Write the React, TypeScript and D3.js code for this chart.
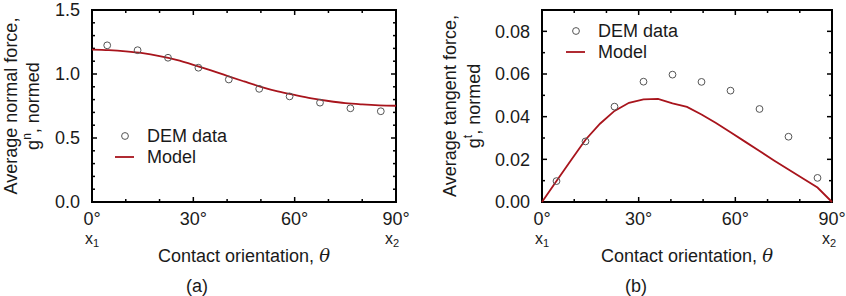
import React from "react";
import * as d3 from "d3";

// contact orientation of the DEM bins, degrees
const thetaDEM = [4.5, 13.5, 22.5, 31.5, 40.5, 49.5, 58.5, 67.5, 76.5, 85.5];

// (a) average normal force
const normalDEM = [1.224, 1.186, 1.127, 1.049, 0.957, 0.884, 0.825, 0.776, 0.732, 0.709];
const normalModelTheta = [0, 5, 10, 15, 20, 25, 30, 35, 40, 45, 50, 55, 60, 65, 70, 75, 80, 85, 90];
const normalModel = [1.19, 1.186, 1.177, 1.163, 1.14, 1.11, 1.072, 1.03, 0.985, 0.942, 0.9, 0.864, 0.836, 0.81, 0.789, 0.772, 0.762, 0.755, 0.752];
const normalTicks = [0, 0.5, 1.0, 1.5];

// (b) average tangent force
const tangentDEM = [0.0098, 0.0284, 0.0447, 0.0564, 0.0597, 0.0563, 0.0522, 0.0436, 0.0306, 0.0113];
const tangentModelTheta = [0, 4.5, 9, 13.5, 18, 22.5, 27, 31.5, 36, 40.5, 45, 49.5, 54, 58.5, 63, 67.5, 72, 76.5, 81, 85.5, 90];
const tangentModel = [0, 0.0098, 0.0196, 0.0292, 0.0367, 0.0427, 0.0465, 0.0481, 0.0483, 0.0462, 0.0446, 0.041, 0.037, 0.0327, 0.0283, 0.0239, 0.0195, 0.0152, 0.011, 0.0068, 0];
const tangentTicks = [0, 0.02, 0.04, 0.06, 0.08];

const xTicks = [0, 30, 60, 90];
// end points of the orientation range get an x1 / x2 label underneath
const xEndLabels: Record<number, string> = { 0: "1", 90: "2" };

const FONT = "'Liberation Sans', Arial, sans-serif";
const FS = 18;
const RED = "#a8141c";

type PanelProps = {
  left: number;
  right: number;
  yMax: number;
  yTicks: number[];
  yMinorStep: number;
  yFormat: (v: number) => string;
  dem: number[];
  modelTheta: number[];
  model: number[];
  curve: d3.CurveFactory;
  symbol: string;
  yTitleOffsets: [number, number];
  subShift: number;
  legend: { x: number; y: number };
  caption: string;
  captionX: number;
};

const TOP = 10;
const BOTTOM = 202;

const Panel = (p: PanelProps) => {
  const ref = React.useRef<SVGGElement>(null);

  React.useEffect(() => {
    const g = d3.select(ref.current);
    g.selectAll("*").remove();

    const x = d3.scaleLinear().domain([0, 90]).range([p.left, p.right]);
    const y = d3.scaleLinear().domain([0, p.yMax]).range([BOTTOM, TOP]);

    // inner ticks on all four sides
    const ticks = g.append("g").attr("stroke", "#000").attr("stroke-width", 1.5);
    d3.range(0, 91, 10).forEach((t) => {
      const len = t % 30 === 0 ? 5 : 3;
      ticks.append("line").attr("x1", x(t)).attr("x2", x(t)).attr("y1", BOTTOM).attr("y2", BOTTOM - len);
      ticks.append("line").attr("x1", x(t)).attr("x2", x(t)).attr("y1", TOP).attr("y2", TOP + len);
    });
    const nMinor = Math.round(p.yMax / p.yMinorStep);
    d3.range(0, nMinor + 1).forEach((i) => {
      const v = i * p.yMinorStep;
      const major = p.yTicks.some((t) => Math.abs(t - v) < 1e-9);
      const len = major ? 5 : 3;
      ticks.append("line").attr("x1", p.left).attr("x2", p.left + len).attr("y1", y(v)).attr("y2", y(v));
      ticks.append("line").attr("x1", p.right).attr("x2", p.right - len).attr("y1", y(v)).attr("y2", y(v));
    });

    // frame
    g.append("rect")
      .attr("x", p.left)
      .attr("y", TOP)
      .attr("width", p.right - p.left)
      .attr("height", BOTTOM - TOP)
      .attr("fill", "none")
      .attr("stroke", "#000")
      .attr("stroke-width", 2);

    const txt = g.append("g").attr("font-family", FONT).attr("font-size", FS).attr("fill", "#1a1a1a");

    // y tick labels
    p.yTicks.forEach((t) => {
      txt.append("text")
        .attr("x", p.left - 12)
        .attr("y", y(t))
        .attr("dy", "0.36em")
        .attr("text-anchor", "end")
        .text(p.yFormat(t));
    });

    // x tick labels
    xTicks.forEach((t) => {
      txt.append("text")
        .attr("x", x(t))
        .attr("y", 225)
        .attr("text-anchor", "middle")
        .text(`${t}°`);
      const n = xEndLabels[t];
      if (n) {
        const sx = t === 90 ? x(t) - p.subShift : x(t);
        const s = txt.append("text").attr("x", sx).attr("y", 244).attr("font-size", 16).attr("text-anchor", "middle");
        s.append("tspan").text("x");
        s.append("tspan").attr("font-size", 11).attr("dy", 3).text(n);
      }
    });

    // axis titles
    const xt = txt.append("text")
      .attr("x", (p.left + p.right) / 2)
      .attr("y", 262)
      .attr("text-anchor", "middle");
    xt.append("tspan").text("Contact orientation, ");
    xt.append("tspan").attr("font-style", "italic").attr("font-family", "'DejaVu Serif', serif").text("θ");

    const cy = (TOP + BOTTOM) / 2;
    txt.append("text")
      .attr("transform", `translate(${p.left - p.yTitleOffsets[0]},${cy}) rotate(-90)`)
      .attr("text-anchor", "middle")
      .text(p.symbol === "n" ? "Average normal force," : "Average tangent force,");
    const yl = txt.append("text")
      .attr("transform", `translate(${p.left - p.yTitleOffsets[1]},${cy}) rotate(-90)`)
      .attr("text-anchor", "middle");
    yl.append("tspan").text("g");
    yl.append("tspan").attr("font-size", 12).attr("dy", -8).text(p.symbol);
    yl.append("tspan").attr("dy", 8).text(", normed");

    txt.append("text")
      .attr("x", p.captionX)
      .attr("y", 292)
      .attr("text-anchor", "middle")
      .text(p.caption);

    // model curve
    const line = d3
      .line<number>()
      .x((_, i) => x(p.modelTheta[i]))
      .y((d) => y(d))
      .curve(p.curve);
    g.append("path")
      .attr("d", line(p.model))
      .attr("fill", "none")
      .attr("stroke", RED)
      .attr("stroke-width", 1.8);

    // DEM points
    g.append("g")
      .selectAll("circle")
      .data(p.dem)
      .enter()
      .append("circle")
      .attr("cx", (_, i) => x(thetaDEM[i]))
      .attr("cy", (d) => y(d))
      .attr("r", 3.4)
      .attr("fill", "none")
      .attr("stroke", "#555")
      .attr("stroke-width", 1);

    // legend
    const lg = g.append("g").attr("transform", `translate(${p.legend.x},${p.legend.y})`);
    lg.append("circle").attr("cx", 10).attr("cy", 0).attr("r", 3.4).attr("fill", "none").attr("stroke", "#555");
    lg.append("text").attr("x", 32).attr("y", 0).attr("dy", "0.36em").attr("font-family", FONT).attr("font-size", FS).attr("fill", "#1a1a1a").text("DEM data");
    lg.append("line").attr("x1", 0).attr("x2", 19).attr("y1", 21).attr("y2", 21).attr("stroke", RED).attr("stroke-width", 1.8);
    lg.append("text").attr("x", 32).attr("y", 21).attr("dy", "0.36em").attr("font-family", FONT).attr("font-size", FS).attr("fill", "#1a1a1a").text("Model");
  }, [p]);

  return <g ref={ref} />;
};

const App = () => (
  <svg width={846} height={296} style={{ position: "absolute", left: 0, top: 0, background: "#fff" }}>
    <Panel
      left={92}
      right={396}
      yMax={1.5}
      yTicks={normalTicks}
      yMinorStep={0.1}
      yFormat={d3.format(".1f")}
      dem={normalDEM}
      modelTheta={normalModelTheta}
      model={normalModel}
      curve={d3.curveMonotoneX}
      symbol="n"
      yTitleOffsets={[75, 53]}
      subShift={4}
      legend={{ x: 115, y: 136 }}
      caption="(a)"
      captionX={197}
    />
    <Panel
      left={542}
      right={832}
      yMax={0.09}
      yTicks={tangentTicks}
      yMinorStep={0.01}
      yFormat={d3.format(".2f")}
      dem={tangentDEM}
      modelTheta={tangentModelTheta}
      model={tangentModel}
      curve={d3.curveLinear}
      symbol="t"
      yTitleOffsets={[86, 62]}
      subShift={3}
      legend={{ x: 566, y: 31 }}
      caption="(b)"
      captionX={636}
    />
  </svg>
);

export default App;
